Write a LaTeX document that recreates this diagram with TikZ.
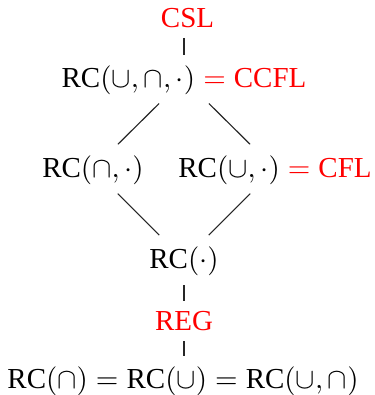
\documentclass[tikz,border=0pt]{standalone}
\usepackage{fontspec}
\setmainfont{Liberation Serif}
\usetikzlibrary{calc}
\begin{document}
\begin{tikzpicture}[x=0.345pt, y=-0.345pt,
    lbl/.style={anchor=base},
    cls/.style={lbl, text=red},
    edge/.style={line width=0.4pt, black!85},
    diag/.style={edge, shorten <=12.1pt, shorten >=12.1pt}]
  \useasboundingbox (0,0) rectangle (375,395);

  % language classes of the hierarchy
  \node[cls] (csl) at (187.5,27.3) {CSL};
  \node[lbl] (top) at (184,87)
    {RC$(\cup,\cap,\cdot)\textcolor{red}{{}={}}$\textcolor{red}{CCFL}};
  \node[lbl] (ml) at (93,177) {RC$(\cap,\cdot)$};
  \node[lbl] (mr) at (275,177)
    {RC$(\cup,\cdot)\textcolor{red}{{}={}}$\textcolor{red}{CFL}};
  \node[lbl] (mid) at (184,268) {RC$(\cdot)$};
  \node[cls] (reg) at (184,330.7) {REG};
  \node[lbl] (bot) at (183,388.3)
    {RC$(\cap)={}$RC$(\cup)={}$RC$(\cup,\cap)$};

  % inclusions
  \draw[edge] (csl.south -| top.north) -- (top.north);
  \draw[diag] ([yshift=2.8pt]top.base) -- ([yshift=2.8pt]ml.base);
  \draw[diag] ([yshift=2.8pt]top.base) -- ([yshift=2.8pt]mr.base);
  \draw[diag] ([yshift=2.8pt]ml.base) -- ([yshift=2.8pt]mid.base);
  \draw[diag] ([yshift=2.8pt]mr.base) -- ([yshift=2.8pt]mid.base);
  \draw[edge] (mid.south) -- (reg.north);
  \draw[edge] (reg.south) -- (reg.south |- bot.north);
\end{tikzpicture}
\end{document}
